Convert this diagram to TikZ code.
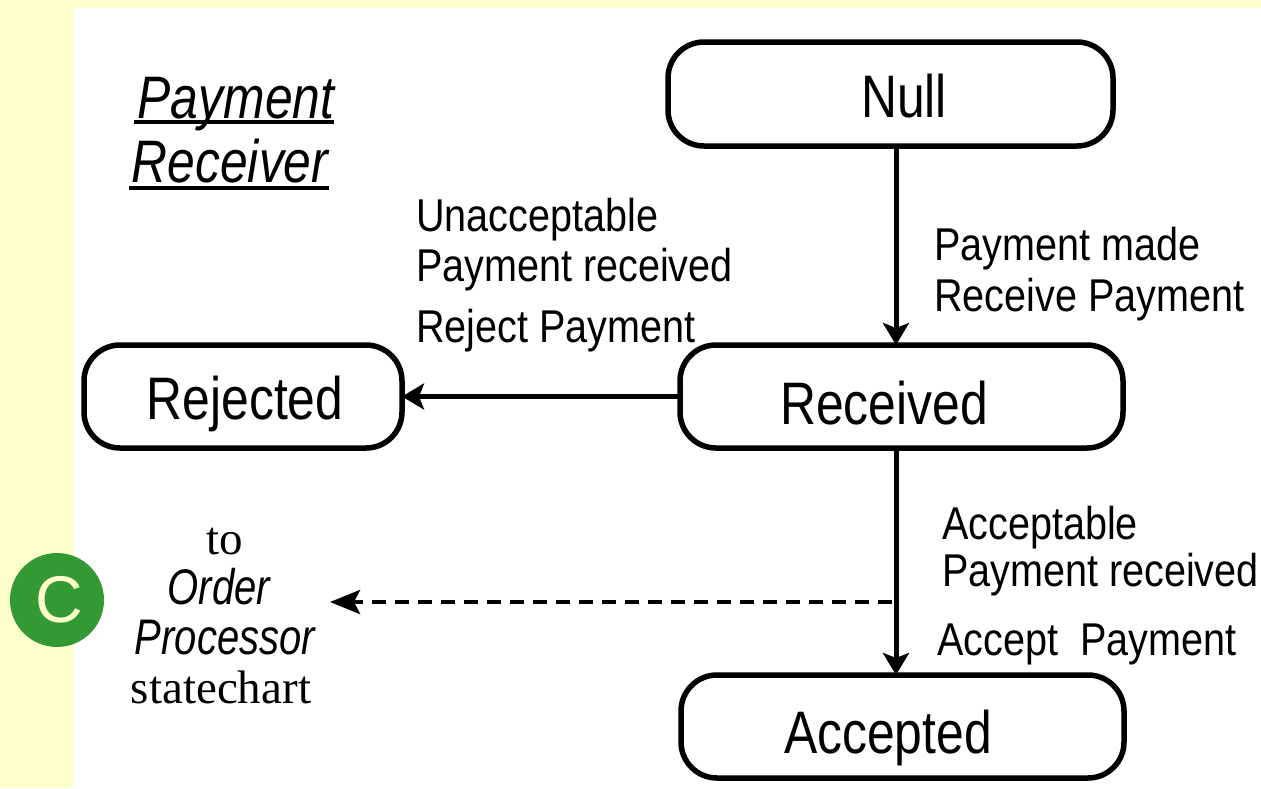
\documentclass[tikz,border=0pt]{standalone}
\usepackage{fontspec}
\setmainfont{Liberation Sans}
\newfontfamily\timesf{Liberation Serif}
\usetikzlibrary{arrows.meta}
\definecolor{pagebg}{HTML}{FFFFCC}
\definecolor{badge}{HTML}{339933}
\tikzset{
  x=1pt,y=-1pt,
  statebox/.style={draw=black,line width=5.5pt,rounded corners=36pt,fill=white,inner sep=0pt,outer sep=0pt,anchor=north west},
  stname/.style={font=\fontsize{60}{60}\selectfont,xscale=.83,transform shape,anchor=base,inner sep=0pt},
  lab/.style={font=\fontsize{46}{46}\selectfont,xscale=.86,transform shape,anchor=base west,inner sep=0pt},
  ital/.style={font=\fontsize{60}{60}\selectfont\itshape,xscale=.83,transform shape,anchor=base,inner sep=0pt},
  italb/.style={font=\fontsize{50}{50}\selectfont\itshape,xscale=.80,transform shape,anchor=base,inner sep=0pt},
  serifl/.style={font=\fontsize{47}{47}\selectfont\timesf,xscale=1.0,transform shape,anchor=base,inner sep=0pt},
  flow/.style={line width=5pt,-{Stealth[length=22pt,width=26pt,inset=5pt]}},
  under/.style={line width=4.5pt},
}
\begin{document}
\begin{tikzpicture}
\useasboundingbox (0,0) rectangle (1261,788);
\fill[pagebg] (0,0) rectangle (1261,788);
\fill[white] (73,8) rectangle (1261,788);
% states
\node[statebox,minimum width=445pt,minimum height=104pt] (null) at (668,42) {};
\node[statebox,minimum width=443pt,minimum height=103pt] (received) at (680,345) {};
\node[statebox,minimum width=318pt,minimum height=103pt] (rejected) at (84,345) {};
\node[statebox,minimum width=443pt,minimum height=103pt] (accepted) at (681,675) {};
\node[stname] (nullt) at (904,117) {Null};
\node[stname] (receivedt) at (884,424) {Received};
\node[stname] (rejectedt) at (245,419) {Rejected};
\node[stname] (acceptedt) at (888,753) {Accepted};
% connectors
\coordinate (vline) at (896,0);
\coordinate (junction) at (892,602);
\coordinate (offpage) at (330,602);
\draw[flow] (null.south -| vline) -- (received.north -| vline);
\draw[flow] (received.west |- rejected.east) -- (rejected.east);
\draw[flow] (received.south -| vline) -- (accepted.north -| vline);
\draw[flow,line width=4.5pt,-{Stealth[length=30pt,width=24pt,inset=6pt]},dash pattern=on 14pt off 9pt] (junction) -- (offpage);
% labels
\node[lab] (l1) at (416,231) {Unacceptable};
\node[lab] (l2) at (416,281) {Payment received};
\node[lab] (l3) at (416,342) {Reject Payment};
\node[lab] (l4) at (934,260) {Payment made};
\node[lab] (l5) at (934,311) {Receive Payment};
\node[lab] (l6) at (942,539) {Acceptable};
\node[lab] (l7) at (942,586) {Payment received};
\node[lab] (l8) at (937,655) {Accept\ \ Payment};
% title
\node[ital] (t1) at (236,118) {Payment};
\node[ital] (t2) at (230,182) {Receiver};
\coordinate (t1a) at (134,122); \coordinate (t1b) at (334,122);
\coordinate (t2a) at (129,188); \coordinate (t2b) at (329,188);
\draw[under] (t1a) -- (t1b);
\draw[under] (t2a) -- (t2b);
% off-page note
\node[serifl] (n1) at (225,554) {to};
\node[italb] (n2) at (219,604) {Order};
\node[italb] (n3) at (225,654) {Processor};
\node[serifl] (n4) at (221,703) {statechart};
% badge
\node[circle,fill=badge,minimum size=94pt,inner sep=0pt,text=pagebg,font=\fontsize{66}{66}\selectfont] (c) at (57,600) {\hspace{4pt}\raisebox{-2pt}{C}};
\end{tikzpicture}
\end{document}
